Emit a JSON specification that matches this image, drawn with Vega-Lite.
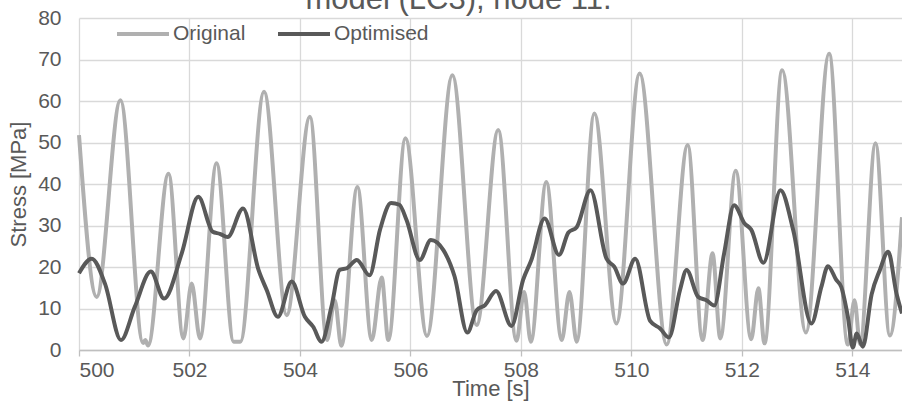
{
  "$schema": "https://vega.github.io/schema/vega-lite/v6.json",
  "width": 823,
  "height": 332,
  "autosize": {"type": "none"},
  "padding": {"left": 79, "top": 18, "right": 0, "bottom": 52},
  "background": "white",
  "title": {"text": "model (LC3), node 11.", "fontSize": 31, "font": "Liberation Sans", "fontWeight": "normal", "color": "#595959", "anchor": "middle", "frame": "bounds", "baseline": "alphabetic", "offset": 0, "dy": 34},
  "datasets": {
    "orig": [
      {"t": 500.0, "stress": 51.8, "series": "Original"}, {"t": 500.32, "stress": 12.8, "series": "Original"}, {"t": 500.75, "stress": 60.2, "series": "Original"},
      {"t": 501.16, "stress": 1.7, "series": "Original"}, {"t": 501.2, "stress": 2.4, "series": "Original"}, {"t": 501.25, "stress": 1.1, "series": "Original"},
      {"t": 501.62, "stress": 42.5, "series": "Original"}, {"t": 501.89, "stress": 2.8, "series": "Original"}, {"t": 502.04, "stress": 16, "series": "Original"},
      {"t": 502.19, "stress": 2.8, "series": "Original"}, {"t": 502.49, "stress": 45, "series": "Original"}, {"t": 502.8, "stress": 2, "series": "Original"},
      {"t": 502.92, "stress": 2, "series": "Original"}, {"t": 503.35, "stress": 62.2, "series": "Original"}, {"t": 503.76, "stress": 8.4, "series": "Original"},
      {"t": 504.18, "stress": 56.2, "series": "Original"}, {"t": 504.49, "stress": 2.4, "series": "Original"}, {"t": 504.63, "stress": 12, "series": "Original"},
      {"t": 504.75, "stress": 1, "series": "Original"}, {"t": 505.04, "stress": 39.3, "series": "Original"}, {"t": 505.3, "stress": 2.4, "series": "Original"},
      {"t": 505.48, "stress": 17.5, "series": "Original"}, {"t": 505.6, "stress": 2.4, "series": "Original"}, {"t": 505.91, "stress": 51, "series": "Original"},
      {"t": 506.3, "stress": 3.4, "series": "Original"}, {"t": 506.76, "stress": 66.2, "series": "Original"}, {"t": 507.2, "stress": 6, "series": "Original"},
      {"t": 507.59, "stress": 53, "series": "Original"}, {"t": 507.92, "stress": 2.2, "series": "Original"}, {"t": 508.06, "stress": 14, "series": "Original"},
      {"t": 508.18, "stress": 2, "series": "Original"}, {"t": 508.46, "stress": 40.5, "series": "Original"}, {"t": 508.74, "stress": 2.4, "series": "Original"},
      {"t": 508.88, "stress": 14, "series": "Original"}, {"t": 509.01, "stress": 2, "series": "Original"}, {"t": 509.33, "stress": 57, "series": "Original"},
      {"t": 509.73, "stress": 6.4, "series": "Original"}, {"t": 510.15, "stress": 66.6, "series": "Original"}, {"t": 510.64, "stress": 1.3, "series": "Original"},
      {"t": 511.02, "stress": 49.4, "series": "Original"}, {"t": 511.29, "stress": 2.4, "series": "Original"}, {"t": 511.47, "stress": 23.3, "series": "Original"},
      {"t": 511.61, "stress": 2.8, "series": "Original"}, {"t": 511.89, "stress": 43.2, "series": "Original"}, {"t": 512.17, "stress": 2.6, "series": "Original"},
      {"t": 512.3, "stress": 14.9, "series": "Original"}, {"t": 512.41, "stress": 1.6, "series": "Original"}, {"t": 512.73, "stress": 67.4, "series": "Original"},
      {"t": 513.16, "stress": 4.2, "series": "Original"}, {"t": 513.58, "stress": 71.4, "series": "Original"}, {"t": 513.92, "stress": 1.3, "series": "Original"},
      {"t": 514.04, "stress": 12, "series": "Original"}, {"t": 514.14, "stress": 1.4, "series": "Original"}, {"t": 514.42, "stress": 49.8, "series": "Original"},
      {"t": 514.68, "stress": 3.5, "series": "Original"}, {"t": 514.9, "stress": 32, "series": "Original"}
    ],
    "opt": [
      {"t": 500.0, "stress": 18.5, "series": "Optimised"}, {"t": 500.23, "stress": 22, "series": "Optimised"}, {"t": 500.47, "stress": 16, "series": "Optimised"},
      {"t": 500.76, "stress": 2.4, "series": "Optimised"}, {"t": 501.01, "stress": 10.4, "series": "Optimised"}, {"t": 501.3, "stress": 18.9, "series": "Optimised"},
      {"t": 501.54, "stress": 12.4, "series": "Optimised"}, {"t": 501.86, "stress": 23.3, "series": "Optimised"}, {"t": 502.16, "stress": 36.9, "series": "Optimised"},
      {"t": 502.42, "stress": 28.5, "series": "Optimised"}, {"t": 502.55, "stress": 28, "series": "Optimised"}, {"t": 502.69, "stress": 27.2, "series": "Optimised"},
      {"t": 502.97, "stress": 34.1, "series": "Optimised"}, {"t": 503.25, "stress": 19.3, "series": "Optimised"}, {"t": 503.4, "stress": 14.4, "series": "Optimised"},
      {"t": 503.6, "stress": 8, "series": "Optimised"}, {"t": 503.85, "stress": 16.5, "series": "Optimised"}, {"t": 504.09, "stress": 8, "series": "Optimised"},
      {"t": 504.24, "stress": 5.6, "series": "Optimised"}, {"t": 504.39, "stress": 2, "series": "Optimised"}, {"t": 504.57, "stress": 10.4, "series": "Optimised"},
      {"t": 504.72, "stress": 19.3, "series": "Optimised"}, {"t": 504.85, "stress": 19.7, "series": "Optimised"}, {"t": 505.03, "stress": 21.7, "series": "Optimised"},
      {"t": 505.26, "stress": 18, "series": "Optimised"}, {"t": 505.45, "stress": 29, "series": "Optimised"}, {"t": 505.65, "stress": 35.4, "series": "Optimised"},
      {"t": 505.8, "stress": 35, "series": "Optimised"}, {"t": 505.93, "stress": 31.3, "series": "Optimised"}, {"t": 506.17, "stress": 21.7, "series": "Optimised"},
      {"t": 506.37, "stress": 26.5, "series": "Optimised"}, {"t": 506.6, "stress": 24, "series": "Optimised"}, {"t": 506.8, "stress": 17.7, "series": "Optimised"},
      {"t": 507.03, "stress": 4.2, "series": "Optimised"}, {"t": 507.2, "stress": 9.6, "series": "Optimised"}, {"t": 507.35, "stress": 10.8, "series": "Optimised"},
      {"t": 507.55, "stress": 14.2, "series": "Optimised"}, {"t": 507.83, "stress": 5.8, "series": "Optimised"}, {"t": 508.04, "stress": 16.9, "series": "Optimised"},
      {"t": 508.19, "stress": 21.7, "series": "Optimised"}, {"t": 508.43, "stress": 31.7, "series": "Optimised"}, {"t": 508.69, "stress": 22.9, "series": "Optimised"},
      {"t": 508.86, "stress": 28.3, "series": "Optimised"}, {"t": 509.01, "stress": 29.6, "series": "Optimised"}, {"t": 509.26, "stress": 38.5, "series": "Optimised"},
      {"t": 509.55, "stress": 22, "series": "Optimised"}, {"t": 509.69, "stress": 20.1, "series": "Optimised"}, {"t": 509.85, "stress": 16, "series": "Optimised"},
      {"t": 510.07, "stress": 22, "series": "Optimised"}, {"t": 510.34, "stress": 7, "series": "Optimised"}, {"t": 510.52, "stress": 5.2, "series": "Optimised"},
      {"t": 510.68, "stress": 3, "series": "Optimised"}, {"t": 510.88, "stress": 14.4, "series": "Optimised"}, {"t": 511.0, "stress": 19.3, "series": "Optimised"},
      {"t": 511.21, "stress": 12.8, "series": "Optimised"}, {"t": 511.36, "stress": 12, "series": "Optimised"}, {"t": 511.5, "stress": 10.7, "series": "Optimised"},
      {"t": 511.68, "stress": 23.3, "series": "Optimised"}, {"t": 511.86, "stress": 34.9, "series": "Optimised"}, {"t": 512.05, "stress": 30.5, "series": "Optimised"},
      {"t": 512.17, "stress": 29, "series": "Optimised"}, {"t": 512.39, "stress": 21, "series": "Optimised"}, {"t": 512.7, "stress": 38.5, "series": "Optimised"},
      {"t": 512.93, "stress": 28.9, "series": "Optimised"}, {"t": 513.26, "stress": 6.4, "series": "Optimised"}, {"t": 513.44, "stress": 15.2, "series": "Optimised"},
      {"t": 513.56, "stress": 20.2, "series": "Optimised"}, {"t": 513.71, "stress": 16.9, "series": "Optimised"}, {"t": 513.8, "stress": 15.2, "series": "Optimised"},
      {"t": 513.92, "stress": 8, "series": "Optimised"}, {"t": 514.01, "stress": 0.6, "series": "Optimised"}, {"t": 514.08, "stress": 4, "series": "Optimised"},
      {"t": 514.19, "stress": 0.8, "series": "Optimised"}, {"t": 514.35, "stress": 13.4, "series": "Optimised"}, {"t": 514.5, "stress": 19.3, "series": "Optimised"},
      {"t": 514.65, "stress": 23.7, "series": "Optimised"}, {"t": 514.8, "stress": 13.6, "series": "Optimised"}, {"t": 514.9, "stress": 8.8, "series": "Optimised"}
    ]
  },
  "encoding": {
    "x": {
      "field": "t", "type": "quantitative",
      "scale": {"domain": [500, 514.9], "nice": false, "zero": false},
      "axis": {
        "title": "Time [s]", "values": [500, 502, 504, 506, 508, 510, 512, 514],
        "grid": true, "gridColor": "#D9D9D9", "gridWidth": 1.3,
        "domainColor": "#BFBFBF", "domainWidth": 1.3,
        "ticks": true, "tickColor": "#BFBFBF", "tickSize": 6, "tickWidth": 1.3,
        "labelFontSize": 21, "labelColor": "#595959", "labelPadding": 3, "labelFont": "Liberation Sans",
        "titleFontSize": 22, "titleFontWeight": "normal", "titleColor": "#595959", "titleFont": "Liberation Sans",
        "titleBaseline": "alphabetic", "titleY": 45
      }
    },
    "y": {
      "field": "stress", "type": "quantitative",
      "scale": {"domain": [0, 80], "nice": false},
      "axis": {
        "title": "Stress [MPa]", "values": [0, 10, 20, 30, 40, 50, 60, 70, 80],
        "grid": true, "gridColor": "#D9D9D9", "gridWidth": 1.3,
        "domain": false, "ticks": false,
        "labelFontSize": 21, "labelColor": "#595959", "labelPadding": 18, "labelFont": "Liberation Sans",
        "titleFontSize": 22, "titleFontWeight": "normal", "titleColor": "#595959", "titleFont": "Liberation Sans",
        "titleBaseline": "alphabetic", "titleX": -54
      }
    },
    "color": {
      "field": "series", "type": "nominal",
      "scale": {"domain": ["Original", "Optimised"], "range": ["#B0B0B0", "#595959"]},
      "legend": {
        "orient": "none", "legendX": 36, "legendY": -12, "direction": "horizontal", "title": null,
        "symbolType": "stroke", "symbolSize": 2704, "symbolStrokeWidth": 4,
        "labelFontSize": 21, "labelColor": "#595959", "labelFont": "Liberation Sans",
        "columnPadding": 24, "labelOffset": 2, "padding": 0
      }
    }
  },
  "layer": [
    {
      "data": {"name": "orig"},
      "mark": {"type": "line", "interpolate": "monotone", "strokeWidth": 4}
    },
    {
      "data": {"name": "opt"},
      "mark": {"type": "line", "interpolate": "monotone", "strokeWidth": 4}
    }
  ],
  "config": {
    "font": "Liberation Sans",
    "view": {"stroke": null}
  }
}
